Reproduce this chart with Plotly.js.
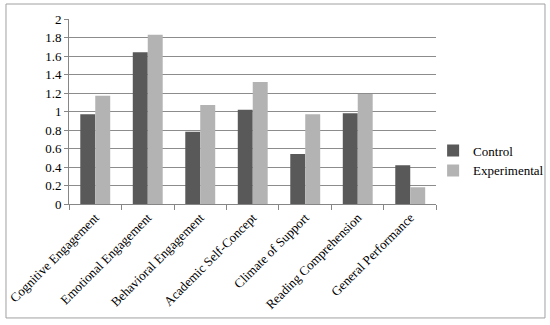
<!DOCTYPE html>
<html>
<head>
<meta charset="utf-8">
<script src="https://cdn.plot.ly/plotly-3.0.1.min.js"></script>
<style>html,body{margin:0;padding:0;background:#fff;}#chart{width:550px;height:325px;}</style>
</head>
<body>
<div id="chart"></div>
<script>
const categories = ["Cognitive Engagement","Emotional Engagement","Behavioral Engagement","Academic Self-Concept","Climate of Support","Reading Comprehension","General Performance"];
const controlValues = [0.97, 1.64, 0.78, 1.02, 0.54, 0.98, 0.42];
const experimentalValues = [1.17, 1.83, 1.07, 1.32, 0.97, 1.19, 0.18];
const yTickValues = [0,0.2,0.4,0.6,0.8,1,1.2,1.4,1.6,1.8,2];
const yTickLabels = ["0","0.2","0.4","0.6","0.8","1","1.2","1.4","1.6","1.8","2"];

const fontFam = "'Liberation Serif', 'DejaVu Serif', serif";
const data = [
  {type:'bar', name:'Control', x:categories, y:controlValues, marker:{color:'#595959'}},
  {type:'bar', name:'Experimental', x:categories, y:experimentalValues, marker:{color:'#b3b3b3'}}
];
const layout = {
  width:550, height:325,
  margin:{l:69, r:0, t:19, b:121, autoexpand:false},
  paper_bgcolor:'#fff', plot_bgcolor:'#fff',
  font:{family:fontFam, size:13, color:'#000'},
  barmode:'group', bargap:0.43, bargroupgap:0,
  showlegend:true,
  legend:{x:0.757, y:0.235, xanchor:'left', yanchor:'middle', font:{family:fontFam, size:13}, itemwidth:30, tracegroupgap:4, bgcolor:'rgba(0,0,0,0)'},
  xaxis:{type:'category', domain:[0, 0.764], tickangle:-45, showline:true, linecolor:'#868686', linewidth:1,
         ticks:'outside', tickson:'boundaries', ticklen:5, tickcolor:'#868686', showgrid:false, tickfont:{family:fontFam, size:13}},
  yaxis:{range:[0,2], tickvals:yTickValues, ticktext:yTickLabels, showline:true, linecolor:'#868686',
         ticks:'outside', ticklen:4, tickcolor:'#868686', showgrid:true, gridcolor:'#8c8c8c', gridwidth:1,
         zeroline:false, tickfont:{family:fontFam, size:13}},
  shapes:[{type:'rect', xref:'paper', yref:'paper', x0:-0.131, x1:0.9896, y0:-0.616, y1:1.081,
           line:{color:'#a0a0a0', width:1}, fillcolor:'rgba(0,0,0,0)'}]
};
Plotly.newPlot('chart', data, layout, {displayModeBar:false, staticPlot:true});
</script>
</body>
</html>
